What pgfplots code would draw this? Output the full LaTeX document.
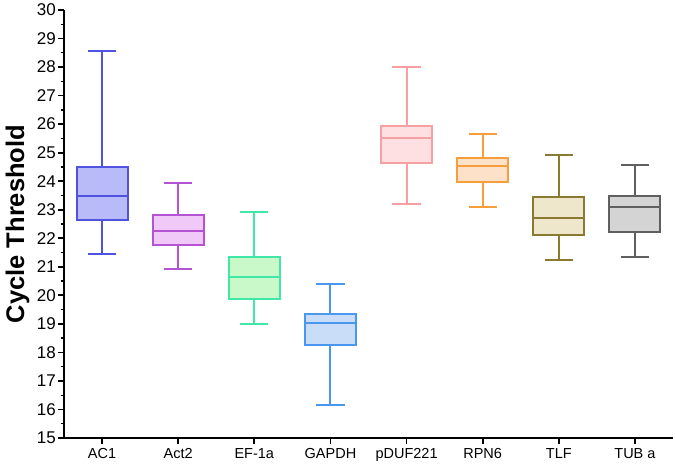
\documentclass[border=0pt]{standalone}
\usepackage{fontspec}
\setmainfont{Liberation Sans}
\usepackage{pgfplots}
\pgfplotsset{compat=1.18}
\usepgfplotslibrary{statistics}
\usetikzlibrary{calc}
\definecolor{cA}{HTML}{5052E0}\definecolor{fA}{HTML}{B9BBF9}
\definecolor{cB}{HTML}{B453D3}\definecolor{fB}{HTML}{F1C9F9}
\definecolor{cC}{HTML}{3FE8A6}\definecolor{fC}{HTML}{C9F9C9}
\definecolor{cD}{HTML}{4A98EE}\definecolor{fD}{HTML}{C9DDF9}
\definecolor{cE}{HTML}{F7A0A3}\definecolor{fE}{HTML}{FFE0E2}
\definecolor{cF}{HTML}{F69E3C}\definecolor{fF}{HTML}{FDE1C8}
\definecolor{cG}{HTML}{8A7A31}\definecolor{fG}{HTML}{EEE7CC}
\definecolor{cH}{HTML}{5F5F5F}\definecolor{fH}{HTML}{D4D4D4}
\pgfplotsset{
  bx/.style={draw=#1, line width=2pt, solid, mark=none,
    boxplot/every whisker/.style={draw=#1, line width=2pt},
    boxplot/every median/.style={draw=#1, line width=2pt},
    boxplot/every box/.style={draw=#1, line width=2pt}},
}
\begin{document}
\begin{tikzpicture}
\begin{axis}[
  scale only axis, width=609pt, height=428pt,
  xmin=-0.5, xmax=7.5, ymin=15, ymax=30,
  axis x line*=bottom, axis y line*=left,
  axis line style={line width=2pt, black},
  ytick={15,...,30}, minor y tick num=1,
  xtick={0,...,7},
  xticklabels={AC1,Act2,EF-1a,GAPDH,pDUF221,RPN6,TLF,TUB a},
  tick align=outside,
  major tick style={line width=1.8pt, black},
  minor tick style={line width=1.3pt, black},
  major tick length=6pt, minor tick length=3.5pt,
  /pgf/number format/assume math mode=true,
  yticklabel style={font=\fontsize{17}{18}\selectfont, inner sep=1pt, xshift=-1pt},
  xticklabel style={font=\fontsize{14.5}{16}\selectfont, inner sep=1pt, yshift=-3pt},
  ylabel={\bfseries Cycle Threshold},
  ylabel style={font=\fontsize{25.5}{27}\selectfont},
  ylabel shift=3pt,
  boxplot/draw direction=y,
  boxplot/box extend=0.67,
  boxplot/whisker extend=0.37,
  clip=false,
]
\addplot+[bx=cA, fill=fA, boxplot prepared={draw position=0, lower whisker=21.45, lower quartile=22.63, median=23.48, upper quartile=24.51, upper whisker=28.57}] coordinates {};
\addplot+[bx=cB, fill=fB, boxplot prepared={draw position=1, lower whisker=20.91, lower quartile=21.76, median=22.25, upper quartile=22.81, upper whisker=23.95}] coordinates {};
\addplot+[bx=cC, fill=fC, boxplot prepared={draw position=2, lower whisker=19.0, lower quartile=19.87, median=20.64, upper quartile=21.35, upper whisker=22.91}] coordinates {};
\addplot+[bx=cD, fill=fD, boxplot prepared={draw position=3, lower whisker=16.15, lower quartile=18.25, median=19.03, upper quartile=19.36, upper whisker=20.38}] coordinates {};
\addplot+[bx=cE, fill=fE, boxplot prepared={draw position=4, lower whisker=23.21, lower quartile=24.63, median=25.51, upper quartile=25.93, upper whisker=27.99}] coordinates {};
\addplot+[bx=cF, fill=fF, boxplot prepared={draw position=5, lower whisker=23.11, lower quartile=23.98, median=24.54, upper quartile=24.8, upper whisker=25.64}] coordinates {};
\addplot+[bx=cG, fill=fG, boxplot prepared={draw position=6, lower whisker=21.23, lower quartile=22.12, median=22.7, upper quartile=23.43, upper whisker=24.93}] coordinates {};
\addplot+[bx=cH, fill=fH, boxplot prepared={draw position=7, lower whisker=21.36, lower quartile=22.21, median=23.08, upper quartile=23.47, upper whisker=24.58}] coordinates {};
\end{axis}
\path[use as bounding box] ($(current axis.south west)+(-64pt,-31pt)$) rectangle ($(current axis.north east)+(2pt,10pt)$);
\end{tikzpicture}
\end{document}
